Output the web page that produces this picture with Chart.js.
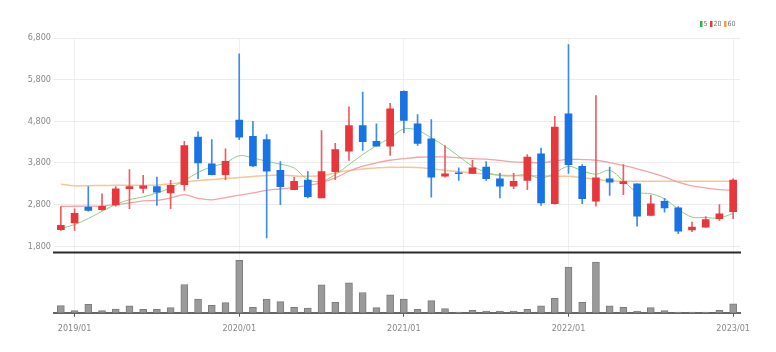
<!DOCTYPE html>
<html><head><meta charset="utf-8">
<script src="https://cdn.jsdelivr.net/npm/chart.js@4.4.1/dist/chart.umd.min.js"></script>
<style>html,body{margin:0;padding:0;background:#fff;}#wrap{position:relative;width:776px;height:352px;}</style>
</head><body><div id="wrap"><canvas id="c" width="776" height="352"></canvas></div>
<script>
const months = ['2018/12','2019/01','2019/02','2019/03','2019/04','2019/05','2019/06','2019/07','2019/08','2019/09','2019/10','2019/11','2019/12',
'2020/01','2020/02','2020/03','2020/04','2020/05','2020/06','2020/07','2020/08','2020/09','2020/10','2020/11','2020/12',
'2021/01','2021/02','2021/03','2021/04','2021/05','2021/06','2021/07','2021/08','2021/09','2021/10','2021/11','2021/12',
'2022/01','2022/02','2022/03','2022/04','2022/05','2022/06','2022/07','2022/08','2022/09','2022/10','2022/11','2022/12','2023/01'];
const openP  = [2200,2360,2740,2680,2790,3180,3190,3230,3080,3280, 4420,3780,3520,4830,4440,4360,3620,3160,3390,2960, 3590,4080,4700,4320,4200,5520,4740,4380,3480,3560, 3550,3700,3420,3240,3380,4020,2820,4980,3720,2880, 3420,3300,3300,2540,2880,2720,2190,2260,2460,2630];
const closeP = [2300,2590,2660,2760,3180,3230,3250,3100,3260,4220, 3800,3520,3840,4420,3730,3600,3230,3360,2990,3590, 4120,4700,4310,4200,5100,4820,4270,3460,3540,3540, 3680,3420,3240,3360,3940,2840,4660,3760,2940,3440, 3340,3350,2520,2820,2720,2160,2260,2440,2580,3390];
const highP  = [2750,2700,3230,3060,3230,3640,3500,3460,3380,4320, 4550,4360,4140,6420,4800,4480,3830,3460,3590,4580, 4270,5150,5500,4740,5230,5530,4960,4840,4220,3680, 3860,3830,3550,3550,4000,4160,4920,6640,3760,5420, 3700,3760,3300,3020,2950,2750,2380,2510,2800,3420];
const lowP   = [2180,2180,2640,2660,2760,2700,3080,2780,2700,3140, 3420,3510,3400,4360,3710,2000,2800,3160,2960,2960, 3400,3860,4100,4200,3980,4520,4220,2980,3460,3380, 3540,3380,2960,3180,3160,2780,2810,3550,2820,2760, 3020,3040,2280,2530,2620,2100,2150,2250,2420,2460];
const ma5  = [2225,2320,2465,2640,2800,2920,2985,3080,3200,3380, 3570,3710,3800,3975,3920,3840,3770,3680,3400,3360, 3520,3760,4000,4217,4400,4617,4585,4400,4200,3960, 3721,3577,3497,3490,3521,3430,3560,3720,3610,3530, 3620,3370,3100,3060,2940,2690,2500,2490,2480,2590];
const ma20 = [2760,2760,2765,2770,2800,2840,2890,2900,2960,3040, 2950,2915,2970,3025,3080,3144,3175,3215,3260,3330, 3441,3601,3721,3801,3865,3905,3937,3945,3945,3925, 3905,3890,3860,3825,3817,3805,3845,3885,3881,3865, 3810,3740,3660,3570,3465,3340,3250,3201,3161,3140];
const ma60 = [3290,3250,3255,3260,3262,3265,3265,3270,3300,3340, 3380,3400,3430,3450,3475,3500,3510,3490,3480,3490, 3561,3617,3657,3681,3697,3697,3690,3660,3625,3590, 3561,3537,3513,3497,3495,3490,3481,3480,3445,3405, 3370,3362,3361,3361,3361,3361,3361,3361,3361,3361];
const volume = [70,20,84,20,37,67,33,33,50,280, 134,74,100,520,54,134,110,54,47,277, 104,297,200,50,177,134,33,120,40,7, 23,17,17,17,33,67,143,453,103,503, 67,53,17,50,20,7,7,7,23,87];
const priceTicks = [1800,2800,3800,4800,5800,6800];
const yearLabels = ['2019/01','2020/01','2021/01','2022/01','2023/01'];
const legendItems = [['5','#33b24a'],['20','#e8383d'],['60','#f39a45']];

const UP='#e6373c', DOWN='#1873e4', UPW='#ec5e62', DOWNW='#3b8cec';
const isUp = i => closeP[i] >= openP[i];
const isYear = i => yearLabels.includes(months[i]);
const FONT = "'Liberation Sans Narrow','DejaVu Sans Condensed','Liberation Sans',sans-serif";

const sepPlugin = {
  id:'sep',
  afterDraw(chart){
    const ctx = chart.ctx, a = chart.chartArea, y = chart.scales.y.bottom;
    ctx.save(); ctx.strokeStyle='#2b2b2b'; ctx.lineWidth=2;
    ctx.beginPath(); ctx.moveTo(a.left-1, y); ctx.lineTo(a.right+1, y); ctx.stroke(); ctx.restore();
  }
};
const legendPlugin = {
  id:'leg',
  afterDraw(chart){
    const ctx = chart.ctx; ctx.save();
    ctx.font = "7px " + FONT; ctx.textBaseline='middle'; ctx.textAlign='left';
    let x = 700; const y = 24;
    legendItems.forEach(([t,c])=>{
      ctx.fillStyle=c; ctx.fillRect(x, y-3, 2.5, 6); x += 3.5;
      ctx.fillStyle='#777'; ctx.fillText(t, x, y); x += ctx.measureText(t).width + 2.5;
    });
    ctx.restore();
  }
};

new Chart(document.getElementById('c').getContext('2d'), {
  type:'bar',
  data:{ labels: months, datasets:[
    {type:'bar', label:'body', data: months.map((m,i)=>[openP[i], closeP[i]]), backgroundColor: c=>isUp(c.dataIndex)?UP:DOWN, barThickness:7, grouped:false, yAxisID:'y', order:0},
    {type:'bar', label:'wick', data: months.map((m,i)=>[lowP[i], highP[i]]), backgroundColor: c=>isUp(c.dataIndex)?UPW:DOWNW, barThickness:1, grouped:false, yAxisID:'y', order:1},
    {type:'line', label:'5', data: ma5, borderColor:'#8cd27e', borderWidth:1, pointRadius:0, tension:0.35, yAxisID:'y', order:2},
    {type:'line', label:'20', data: ma20, borderColor:'#f3a3a5', borderWidth:1.3, pointRadius:0, tension:0.35, yAxisID:'y', order:3},
    {type:'line', label:'60', data: ma60, borderColor:'#f8c594', borderWidth:1.5, pointRadius:0, tension:0.35, yAxisID:'y', order:4},
    {type:'bar', label:'vol', data: volume, backgroundColor:'#9a9a9a', borderColor:'#7c7c7c', borderWidth:1, barThickness:7, grouped:false, yAxisID:'yv', order:5}
  ]},
  options:{
    responsive:false, animation:false,
    layout:{padding:{left:0,right:36,top:38,bottom:0}},
    plugins:{legend:{display:false}, tooltip:{enabled:false}},
    scales:{
      x:{
        grid:{offset:false, color: c=>isYear(c.index)?'#efefef':'rgba(0,0,0,0)', tickColor: c=>isYear(c.index)?'#555':'rgba(0,0,0,0)', tickLength:4},
        border:{color:'#666', width:2},
        ticks:{autoSkip:false, maxRotation:0, minRotation:0, callback:(v,i)=>isYear(i)?months[i]:'', font:{family:FONT,size:9}, color:'#888', padding:7},
        afterFit: s=>{ s.height = 39.3; }
      },
      yv:{ type:'linear', position:'left', stack:'p', stackWeight:60.2, weight:0, min:0, max:597,
        grid:{display:false}, ticks:{display:false}, border:{display:false}, afterFit: s=>{ s.width = 54; } },
      y:{ type:'linear', position:'left', stack:'p', stackWeight:214.5, weight:1, min:1650, max:6800,
        afterBuildTicks: s=>{ s.ticks = priceTicks.map(v=>({value:v})); },
        grid:{color:'#ececec', drawTicks:false}, border:{display:false},
        ticks:{callback: v=>v.toLocaleString('en-US'), font:{family:FONT,size:9}, color:'#888', padding:3},
        afterFit: s=>{ s.width = 54; } }
    }
  },
  plugins:[sepPlugin, legendPlugin]
});
</script></body></html>
